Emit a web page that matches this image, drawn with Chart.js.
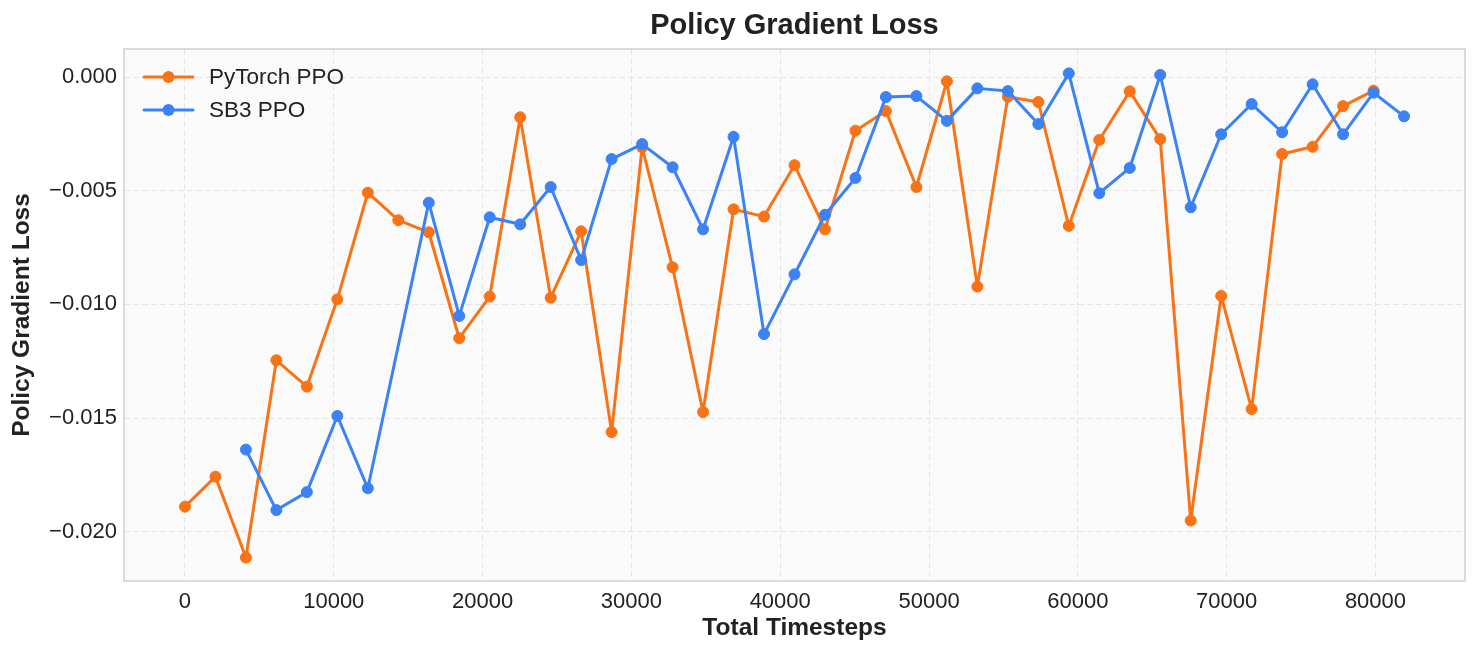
<!DOCTYPE html>
<html><head><meta charset="utf-8">
<script src="https://cdn.jsdelivr.net/npm/chart.js@4.4.0/dist/chart.umd.min.js"></script>
<style>html,body{margin:0;padding:0;background:#fff;} canvas{display:block;}</style>
</head><body>
<canvas id="c" width="1480" height="655"></canvas>
<script>
const pytorchSteps = [0, 2048, 4096, 6144, 8192, 10240, 12288, 14336, 16384, 18432,
  20480, 22528, 24576, 26624, 28672, 30720, 32768, 34816, 36864, 38912,
  40960, 43008, 45056, 47104, 49152, 51200, 53248, 55296, 57344, 59392,
  61440, 63488, 65536, 67584, 69632, 71680, 73728, 75776, 77824, 79872];
const pytorchLoss = [-0.01890, -0.01758, -0.02114, -0.01246, -0.01362, -0.00978, -0.00509, -0.00630, -0.00683, -0.01149,
  -0.00966, -0.00177, -0.00971, -0.00679, -0.01562, -0.00309, -0.00837, -0.01474, -0.00582, -0.00614,
  -0.00388, -0.00670, -0.00236, -0.00150, -0.00484, -0.00019, -0.00922, -0.00087, -0.00110, -0.00655,
  -0.00277, -0.00063, -0.00273, -0.01951, -0.00963, -0.01461, -0.00339, -0.00307, -0.00128, -0.00060];
const sb3Steps = [4096, 6144, 8192, 10240, 12288, 16384, 18432,
  20480, 22528, 24576, 26624, 28672, 30720, 32768, 34816, 36864, 38912,
  40960, 43008, 45056, 47104, 49152, 51200, 53248, 55296, 57344, 59392,
  61440, 63488, 65536, 67584, 69632, 71680, 73728, 75776, 77824, 79872, 81920];
const sb3Loss = [-0.01639, -0.01905, -0.01826, -0.01491, -0.01809, -0.00553, -0.01051,
  -0.00617, -0.00648, -0.00484, -0.00805, -0.00361, -0.00295, -0.00397, -0.00670, -0.00263, -0.01131,
  -0.00868, -0.00606, -0.00444, -0.00088, -0.00084, -0.00193, -0.00050, -0.00062, -0.00207, 0.00016,
  -0.00511, -0.00400, 0.00009, -0.00573, -0.00252, -0.00119, -0.00243, -0.00032, -0.00252, -0.00069, -0.00173];
const seriesNames = ['PyTorch PPO', 'SB3 PPO'];
const xTickValues = [0, 10000, 20000, 30000, 40000, 50000, 60000, 70000, 80000];
const xTickLabels = ['0', '10000', '20000', '30000', '40000', '50000', '60000', '70000', '80000'];
const yTickValues = [0, -0.005, -0.010, -0.015, -0.020];
const yTickLabels = ['0.000', '\u22120.005', '\u22120.010', '\u22120.015', '\u22120.020'];
const titleText = 'Policy Gradient Loss';
const xTitle = 'Total Timesteps';
const yTitle = 'Policy Gradient Loss';

const ORANGE = '#f97316';
const BLUE = '#3b82f6';
const FONT = "'Liberation Sans', Arial, Helvetica, sans-serif";
const TEXT = '#222222';

const toPts = (xs, ys) => xs.map((x, i) => ({x: x, y: ys[i]}));

const plotFrame = {
  id: 'plotFrame',
  beforeDraw(chart) {
    const a = chart.chartArea, ctx = chart.ctx;
    ctx.save();
    ctx.fillStyle = '#fafafa';
    ctx.fillRect(a.left, a.top, a.right - a.left, a.bottom - a.top);
    ctx.restore();
  },
  beforeDatasetsDraw(chart) {
    const a = chart.chartArea, ctx = chart.ctx;
    ctx.save();
    ctx.strokeStyle = '#cccccc';
    ctx.lineWidth = 1.4;
    ctx.strokeRect(a.left, a.top, a.right - a.left, a.bottom - a.top);
    ctx.restore();
  }
};

const innerLegend = {
  id: 'innerLegend',
  afterDraw(chart) {
    const a = chart.chartArea, ctx = chart.ctx;
    ctx.save();
    chart.data.datasets.forEach((ds, i) => {
      const y = a.top + 28 + i * 33;
      const x0 = a.left + 20, x1 = a.left + 69, xm = (x0 + x1) / 2;
      ctx.strokeStyle = ds.borderColor;
      ctx.lineWidth = 3;
      ctx.lineCap = 'round';
      ctx.beginPath(); ctx.moveTo(x0, y); ctx.lineTo(x1, y); ctx.stroke();
      ctx.fillStyle = ds.borderColor;
      ctx.beginPath(); ctx.arc(xm, y, 6, 0, Math.PI * 2); ctx.fill();
      ctx.fillStyle = TEXT;
      ctx.font = '22.5px ' + FONT;
      ctx.textBaseline = 'middle';
      ctx.textAlign = 'left';
      ctx.fillText(ds.label, a.left + 85, y + 1);
    });
    ctx.restore();
  }
};

const lineStyle = {borderWidth: 3, pointRadius: 5.5, pointBorderWidth: 1, tension: 0,
  borderJoinStyle: 'round', borderCapStyle: 'round'};

new Chart(document.getElementById('c'), {
  type: 'line',
  data: {
    datasets: [
      Object.assign({label: seriesNames[0], data: toPts(pytorchSteps, pytorchLoss), borderColor: ORANGE, backgroundColor: ORANGE,
        pointBackgroundColor: ORANGE, pointBorderColor: ORANGE, order: 1}, lineStyle),
      Object.assign({label: seriesNames[1], data: toPts(sb3Steps, sb3Loss), borderColor: BLUE, backgroundColor: BLUE,
        pointBackgroundColor: BLUE, pointBorderColor: BLUE, order: 0}, lineStyle)
    ]
  },
  options: {
    responsive: false,
    animation: false,
    devicePixelRatio: 1,
    layout: {padding: {left: 0, right: 15, top: 0, bottom: 0}},
    plugins: {
      legend: {display: false},
      tooltip: {enabled: false},
      title: {display: true, text: titleText, fullSize: false, color: '#222222',
        font: {family: FONT, size: 29, weight: 'bold', lineHeight: 1.2}, padding: {top: 9, bottom: 5.2}}
    },
    scales: {
      x: {
        type: 'linear', min: -4096, max: 86016,
        afterBuildTicks: s => { s.ticks = xTickValues.map(v => ({value: v})); },
        afterFit: s => { s.height = 74; },
        ticks: {autoSkip: false, maxRotation: 0, padding: 8, color: TEXT,
          font: {family: FONT, size: 22},
          callback: v => xTickLabels[xTickValues.indexOf(v)]},
        grid: {color: '#e6e6e6', lineWidth: 1, drawTicks: false},
        border: {display: false, dash: [6, 3]},
        title: {display: true, text: xTitle, color: TEXT, font: {family: FONT, size: 24.5, weight: 'bold', lineHeight: 1.2},
          padding: {top: 0, bottom: 12}}
      },
      y: {
        type: 'linear', min: -0.02217, max: 0.001232,
        afterBuildTicks: s => { s.ticks = yTickValues.map(v => ({value: v})); },
        afterFit: s => { s.width = 124; },
        ticks: {autoSkip: false, padding: 7, color: TEXT,
          font: {family: FONT, size: 22},
          callback: v => yTickLabels[yTickValues.indexOf(v)]},
        grid: {color: '#e6e6e6', lineWidth: 1, drawTicks: false},
        border: {display: false, dash: [6, 3]},
        title: {display: true, text: yTitle, color: TEXT, font: {family: FONT, size: 24.5, weight: 'bold', lineHeight: 1.2},
          padding: {top: 8, bottom: 0}}
      }
    }
  },
  plugins: [plotFrame, innerLegend]
});
</script>
</body></html>
